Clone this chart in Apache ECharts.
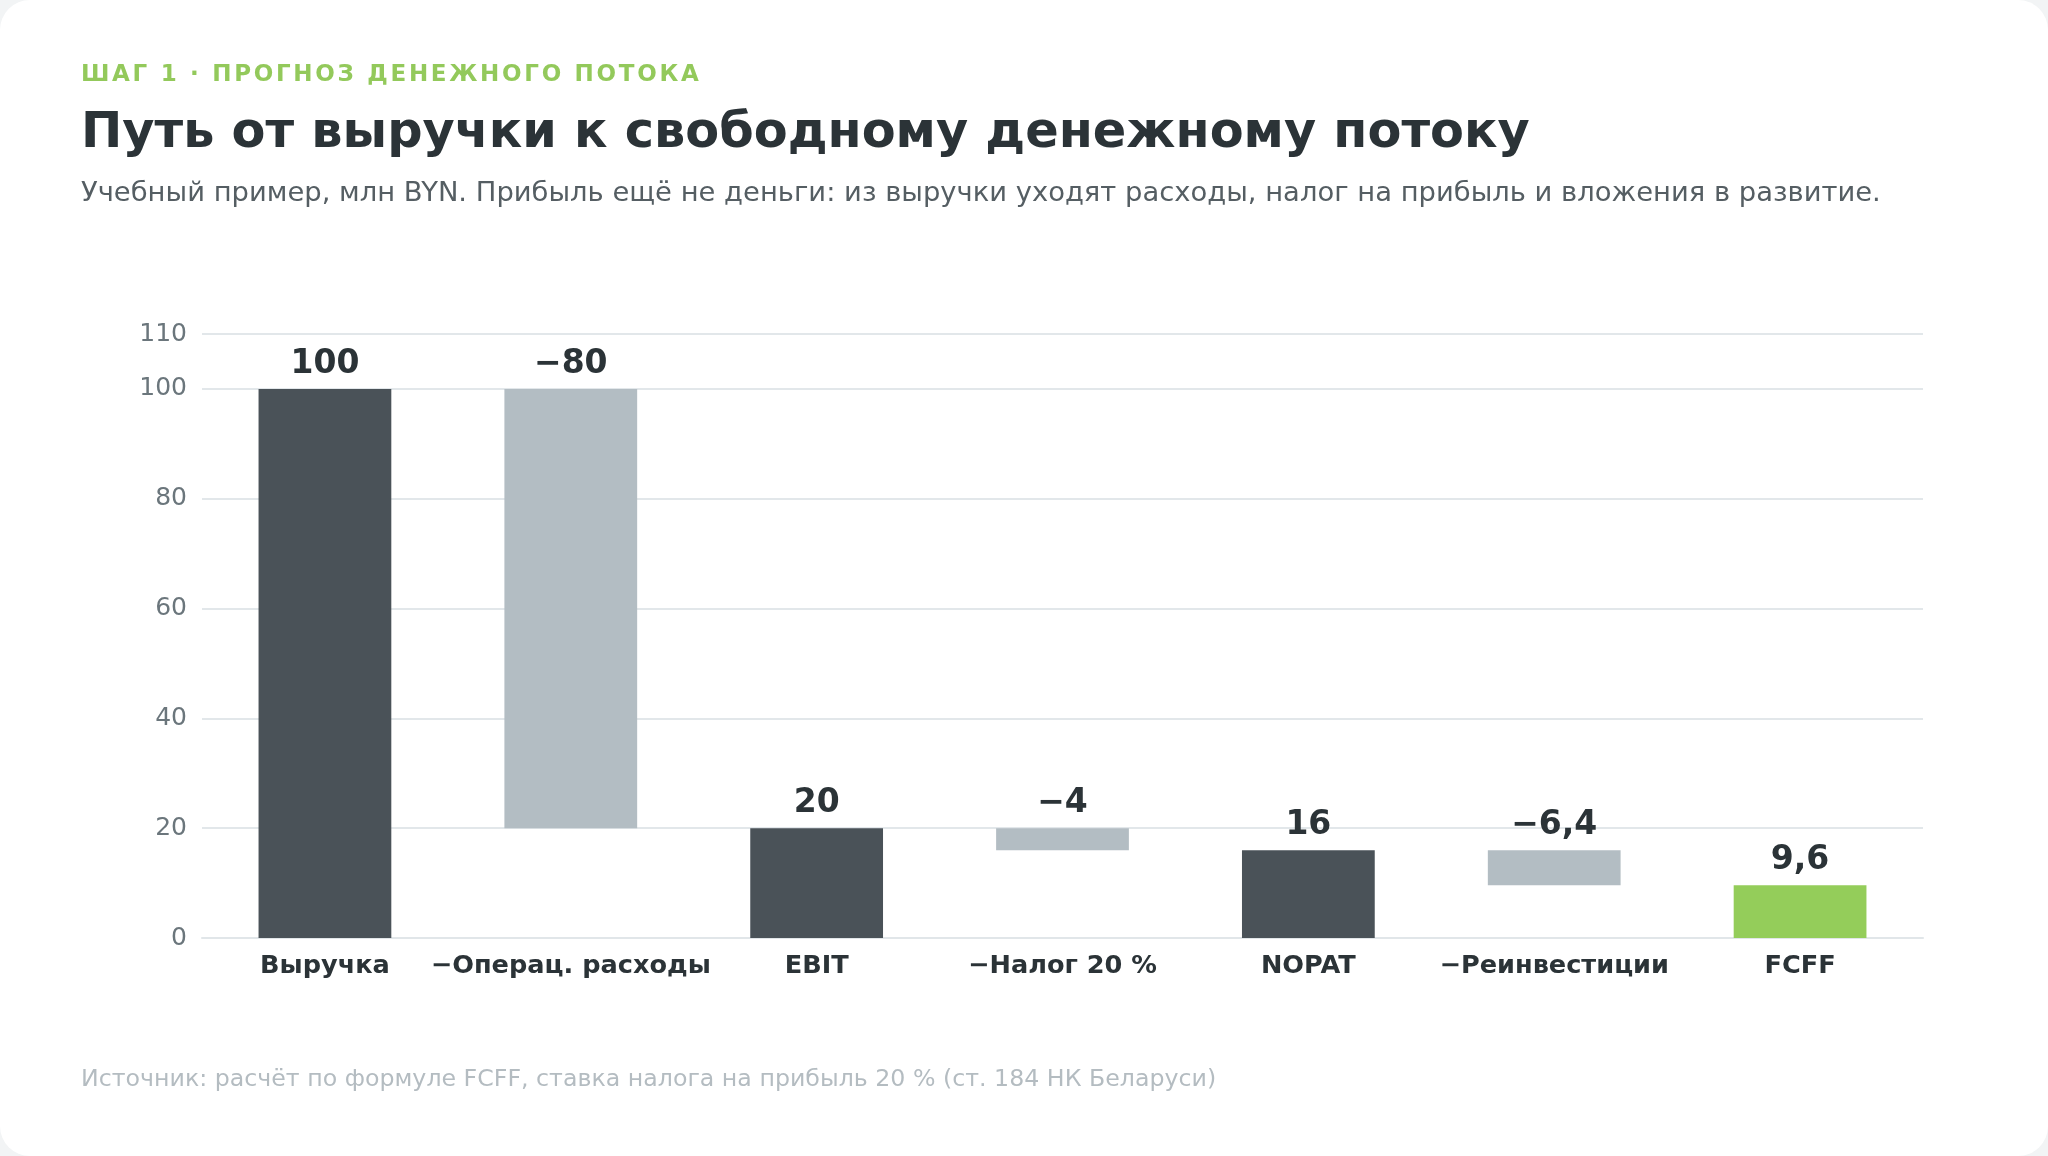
<!DOCTYPE html>
<html lang="ru">
<head>
<meta charset="utf-8">
<title>Путь от выручки к свободному денежному потоку</title>
<script src="https://cdn.jsdelivr.net/npm/echarts@6/dist/echarts.min.js"></script>
<style>
  html, body { margin: 0; padding: 0; background: #f2f4f5; }
  body { width: 2048px; height: 1156px; overflow: hidden; font-family: "DejaVu Sans", sans-serif; }
  .card { position: absolute; left: 0; top: 0; width: 2048px; height: 1156px; background: #fff; border-radius: 30px; }
  .txt { position: absolute; left: 81px; white-space: nowrap; line-height: 1; }
  .eyebrow { top: 62px; font-size: 23px; font-weight: bold; color: #93c95b; letter-spacing: 2.7px; }
  .title { top: 106px; font-size: 49.4px; font-weight: bold; color: #2b3337; }
  .sub { top: 178px; font-size: 27.4px; color: #555e63; }
  .foot { top: 1067px; font-size: 23.7px; color: #b4bcc1; }
  #chart { position: absolute; left: 0; top: 0; width: 2048px; height: 1156px; }
</style>
</head>
<body>
<div class="card"></div>
<div id="chart"></div>
<div class="txt eyebrow">ШАГ 1 · ПРОГНОЗ ДЕНЕЖНОГО ПОТОКА</div>
<div class="txt title">Путь от выручки к свободному денежному потоку</div>
<div class="txt sub">Учебный пример, млн BYN. Прибыль ещё не деньги: из выручки уходят расходы, налог на прибыль и вложения в развитие.</div>
<div class="txt foot">Источник: расчёт по формуле FCFF, ставка налога на прибыль 20 % (ст. 184 НК Беларуси)</div>
<script>
// шаги водопада
const categories = ['Выручка', '−Операц. расходы', 'EBIT', '−Налог 20 %', 'NOPAT', '−Реинвестиции', 'FCFF'];
const values = [100, -80, 20, -4, 16, -6.4, 9.6];
// total = столбец от нуля, delta = изменение от предыдущего итога
const kinds = ['total', 'delta', 'total', 'delta', 'total', 'delta', 'final'];
const yTicks = [0, 20, 40, 60, 80, 100, 110];

const COLORS = { total: '#4a5258', delta: '#b3bdc3', final: '#94cd5a' };

function fmt(v) {
  const s = String(Math.abs(v)).replace('.', ',');
  return v < 0 ? '−' + s : s;
}

// считаем невидимое основание и видимую часть
const base = [];
const visible = [];
let running = 0;
values.forEach((v, i) => {
  if (kinds[i] === 'delta') {
    running += v;
    base.push(running);
    visible.push(Math.abs(v));
  } else {
    running = v;
    base.push(0);
    visible.push(v);
  }
});

const chart = echarts.init(document.getElementById('chart'));

chart.setOption({
  animation: false,
  grid: { left: 202, right: 125, top: 334, bottom: 218 },
  xAxis: {
    type: 'category',
    data: categories,
    axisLine: { lineStyle: { color: '#e1e6e9', width: 2 } },
    axisTick: { show: false },
    axisLabel: {
      margin: 15,
      fontFamily: 'DejaVu Sans',
      fontSize: 25.6,
      fontWeight: 'bold',
      color: '#2b3337',
      interval: 0
    }
  },
  yAxis: {
    type: 'value',
    min: 0,
    max: 110,
    interval: 20,
    axisLine: { show: false },
    axisTick: { show: false },
    splitLine: { lineStyle: { color: '#e2e7ea', width: 2 } },
    axisLabel: {
      margin: 15,
      fontFamily: 'DejaVu Sans',
      fontSize: 25,
      color: '#6b767c',
      formatter: v => (yTicks.includes(v) ? String(v) : '')
    }
  },
  series: [
    {
      type: 'bar',
      stack: 'wf',
      silent: true,
      itemStyle: { color: 'transparent' },
      data: base
    },
    {
      type: 'bar',
      stack: 'wf',
      barWidth: '54%',
      data: visible.map((v, i) => ({
        value: v,
        itemStyle: { color: COLORS[kinds[i]] }
      })),
      label: {
        show: true,
        position: 'top',
        distance: 8,
        fontFamily: 'DejaVu Sans',
        fontSize: 33,
        fontWeight: 'bold',
        color: '#2b3337',
        formatter: p => fmt(values[p.dataIndex])
      }
    }
  ]
});
</script>
</body>
</html>
